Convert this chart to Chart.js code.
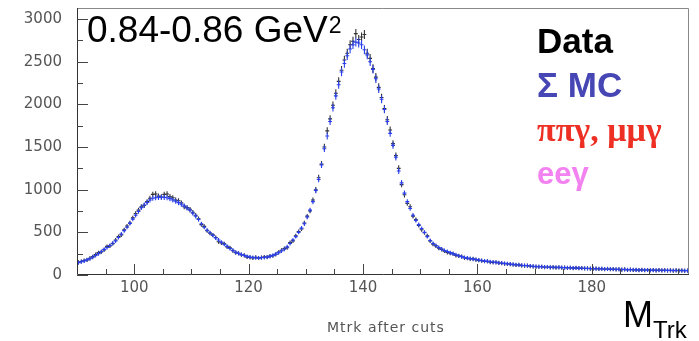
<!DOCTYPE html>
<html>
<head>
<meta charset="utf-8">
<script src="https://cdn.jsdelivr.net/npm/chart.js@4.4.1/dist/chart.umd.min.js"></script>
<style>
html, body { margin: 0; padding: 0; background: #fff; }
#wrap { position: relative; width: 699px; height: 341px; }
</style>
</head>
<body>
<div id="wrap"><canvas id="chart" width="699" height="341"></canvas></div>
<script>
// Mtrk histogram, 0.5 MeV bins starting at 90
var binStart = 90;
var binWidth = 0.5;

var mcCounts = [
    145, 155, 165, 178, 190, 208, 228, 250, 275, 300,
    322, 345, 372, 400, 440, 480, 520, 560, 605, 655,
    700, 745, 790, 820, 850, 880, 900, 905, 910, 912,
    910, 905, 895, 880, 865, 848, 830, 810, 785, 760,
    725, 690, 650, 600, 560, 525, 495, 465, 435, 410,
    385, 360, 335, 310, 290, 268, 252, 240, 228, 218,
    210, 205, 202, 200, 202, 205, 210, 218, 230, 245,
    262, 282, 302, 330, 370, 410, 450, 500, 550, 600,
    680, 760, 860, 990, 1120, 1290, 1480, 1630, 1800, 1960,
    2100, 2230, 2380, 2480, 2570, 2650, 2700, 2730, 2720, 2700,
    2640, 2580, 2500, 2410, 2300, 2180, 2060, 1940, 1800, 1660,
    1520, 1380, 1220, 1080, 960, 860, 780, 700, 640, 590,
    545, 500, 450, 405, 370, 345, 322, 305, 288, 275,
    262, 248, 236, 226, 215, 206, 198, 192, 186, 181,
    176, 170, 165, 160, 156, 152, 148, 144, 140, 136,
    132, 128, 124, 120, 117, 114, 111, 108, 105, 102,
    100, 98, 96, 94, 93, 92, 91, 90, 89, 88,
    86, 85, 84, 83, 82, 81, 80, 79, 77, 76,
    75, 74, 73, 72, 71, 70, 69, 68, 67, 66,
    65, 64, 63, 62, 61, 60, 60, 59, 58, 58,
    57, 57, 56, 56, 55, 55, 54, 54, 53, 53,
    52, 52, 51, 51
];

var dataCounts = [
    150, 158, 170, 175, 196, 215, 240, 262, 270, 295,
    335, 340, 368, 410, 450, 470, 530, 575, 610, 670,
    720, 760, 800, 815, 860, 900, 945, 950, 925, 915,
    945, 950, 920, 905, 880, 870, 845, 800, 790, 770,
    735, 700, 660, 590, 570, 520, 490, 470, 440, 390,
    375, 365, 330, 320, 285, 262, 255, 236, 232, 210,
    205, 200, 208, 198, 205, 212, 208, 222, 226, 240,
    268, 290, 310, 320, 380, 400, 460, 510, 540, 610,
    690, 750, 880, 1000, 1140, 1300, 1500, 1690, 1830, 1990,
    2130, 2270, 2400, 2520, 2600, 2700, 2740, 2830, 2760, 2790,
    2820, 2600, 2540, 2420, 2320, 2200, 2080, 1950, 1820, 1700,
    1540, 1400, 1250, 1060, 940, 840, 800, 690, 650, 580,
    530, 495, 460, 400, 360, 340, 315, 300, 280, 265,
    255, 250, 230, 222, 218, 200, 195, 188, 190, 178,
    172, 168, 160, 162, 150, 148, 150, 140, 138, 132,
    130, 126, 122, 118, 119, 110, 108, 110, 102, 100,
    98, 96, 97, 90, 94, 88, 92, 86, 90, 85,
    88, 82, 86, 80, 84, 78, 82, 76, 78, 74,
    72, 76, 70, 74, 68, 72, 66, 70, 64, 68,
    62, 66, 60, 64, 58, 62, 57, 61, 56, 60,
    55, 59, 54, 58, 53, 57, 52, 56, 51, 55,
    50, 54, 49, 53
];

var xTickLabels = [100, 120, 140, 160, 180];
var yTickLabels = [0, 500, 1000, 1500, 2000, 2500, 3000];

function toPoints(counts) {
    return counts.map(function(c, i) {
        return {x: binStart + (i + 0.5) * binWidth, y: c};
    });
}

// tick marks every 5 on x, every 250 on y (labels only on the listed ones)
function stepTicks(from, to, step) {
    var t = [];
    for (var v = from; v <= to; v += step) t.push({value: v});
    return t;
}

function noPadding(scale) {
    scale.paddingTop = 0;
    scale.paddingBottom = 0;
    scale.paddingLeft = 0;
    scale.paddingRight = 0;
}

// crosses: horizontal bar = bin width, vertical bar = sqrt(N)
var errorBars = {
    id: "errorBars",
    afterDatasetsDraw: function(chart) {
        var ctx = chart.ctx, xs = chart.scales.x, ys = chart.scales.y, a = chart.chartArea;
        ctx.save();
        ctx.beginPath();
        ctx.rect(a.left, a.top, a.right - a.left, a.bottom - a.top);
        ctx.clip();
        [0, 1].forEach(function(di) {
            var ds = chart.data.datasets[di];
            ctx.strokeStyle = ds.borderColor;
            ctx.lineWidth = 1.1;
            ctx.beginPath();
            ds.data.forEach(function(p) {
                var e = Math.sqrt(p.y);
                var px = xs.getPixelForValue(p.x), py = ys.getPixelForValue(p.y);
                var lo = Math.max(ys.getPixelForValue(p.y - e), py + 2);
                var hi = Math.min(ys.getPixelForValue(p.y + e), py - 2);
                ctx.moveTo(xs.getPixelForValue(p.x - binWidth / 2) - 0.5, py);
                ctx.lineTo(xs.getPixelForValue(p.x + binWidth / 2) + 0.5, py);
                ctx.moveTo(px, lo);
                ctx.lineTo(px, hi);
            });
            ctx.stroke();
        });
        ctx.restore();
    }
};

var frameAndText = {
    id: "frameAndText",
    afterDraw: function(chart) {
        var ctx = chart.ctx, xs = chart.scales.x, ys = chart.scales.y, a = chart.chartArea;
        ctx.save();
        ctx.lineWidth = 1;

        // frame
        ctx.strokeStyle = "#888";
        ctx.beginPath();
        ctx.moveTo(a.left, a.top + 0.5);
        ctx.lineTo(a.right - 0.5, a.top + 0.5);
        ctx.lineTo(a.right - 0.5, a.bottom);
        ctx.stroke();
        ctx.strokeStyle = "#333";
        ctx.beginPath();
        ctx.moveTo(a.left + 0.5, a.top);
        ctx.lineTo(a.left + 0.5, a.bottom - 0.5);
        ctx.lineTo(a.right, a.bottom - 0.5);
        ctx.stroke();

        // inward ticks
        ctx.strokeStyle = "#444";
        ctx.beginPath();
        xs.ticks.forEach(function(t) {
            var len = t.value % 20 === 0 ? 11 : 6;
            var px = Math.round(xs.getPixelForValue(t.value)) + 0.5;
            ctx.moveTo(px, a.bottom);
            ctx.lineTo(px, a.bottom - len);
        });
        ys.ticks.forEach(function(t) {
            var len = t.value % 500 === 0 ? 11 : 6;
            var py = Math.round(ys.getPixelForValue(t.value)) + 0.5;
            ctx.moveTo(a.left, py);
            ctx.lineTo(a.left + len, py);
        });
        ctx.stroke();

        // Q2 range label
        ctx.fillStyle = "#000";
        ctx.textBaseline = "alphabetic";
        ctx.textAlign = "left";
        ctx.font = "37px 'Liberation Sans', Arial, sans-serif";
        var q = "0.84-0.86 GeV";
        ctx.fillText(q, 87, 42);
        var qw = ctx.measureText(q).width;
        ctx.font = "23px 'Liberation Sans', Arial, sans-serif";
        ctx.fillText("2", 87 + qw + 1, 33);

        // legend
        ctx.font = "bold 35px 'Liberation Sans', Arial, sans-serif";
        ctx.fillStyle = "#000";
        ctx.fillText("Data", 537, 53);
        ctx.fillStyle = "#4646b4";
        ctx.fillText("\u03A3 MC", 537, 97);
        ctx.font = "bold 34px 'Liberation Serif', 'DejaVu Serif', serif";
        ctx.fillStyle = "#ee3024";
        ctx.fillText("\u03C0\u03C0\u03B3, \u03BC\u03BC\u03B3", 537, 141);
        ctx.font = "bold 31px 'Liberation Sans', Arial, sans-serif";
        ctx.fillStyle = "#f282f0";
        ctx.fillText("ee\u03B3", 537, 184);

        // histogram title
        ctx.font = "14px 'DejaVu Sans', sans-serif";
        ctx.fillStyle = "#555";
        ctx.letterSpacing = "1px";
        ctx.fillText("Mtrk after cuts", 327, 332);
        ctx.letterSpacing = "0px";

        // axis title
        ctx.fillStyle = "#000";
        ctx.font = "36px 'Liberation Sans', Arial, sans-serif";
        ctx.fillText("M", 623, 327);
        var mw = ctx.measureText("M").width;
        ctx.font = "24px 'Liberation Sans', Arial, sans-serif";
        ctx.fillText("Trk", 623 + mw, 338);
        ctx.restore();
    }
};

new Chart(document.getElementById("chart"), {
    type: "scatter",
    data: {
        datasets: [
            {
                label: "Data",
                data: toPoints(dataCounts),
                borderColor: "#333",
                backgroundColor: "#333",
                pointRadius: 0,
                showLine: false
            },
            {
                label: "\u03A3 MC",
                data: toPoints(mcCounts),
                borderColor: "#2a40f0",
                backgroundColor: "#2a40f0",
                pointRadius: 0,
                showLine: false
            }
        ]
    },
    options: {
        responsive: false,
        animation: false,
        layout: {padding: {top: 8, right: 10, left: 0, bottom: 0}},
        plugins: {
            legend: {display: false},
            tooltip: {enabled: false}
        },
        scales: {
            x: {
                type: "linear",
                min: 90,
                max: 197,
                grid: {display: false, drawTicks: false},
                border: {display: false},
                afterFit: function(scale) { scale.height = 66; noPadding(scale); },
                afterBuildTicks: function(scale) { scale.ticks = stepTicks(95, 195, 5); },
                ticks: {
                    autoSkip: false,
                    maxRotation: 0,
                    padding: 4,
                    color: "#555",
                    font: {family: "'DejaVu Sans', sans-serif", size: 15},
                    callback: function(v) { return xTickLabels.indexOf(v) >= 0 ? String(v) : ""; }
                }
            },
            y: {
                min: 0,
                max: 3130,
                grid: {display: false, drawTicks: false},
                border: {display: false},
                afterFit: function(scale) { scale.width = 77; noPadding(scale); },
                afterBuildTicks: function(scale) { scale.ticks = stepTicks(0, 3000, 250); },
                ticks: {
                    autoSkip: false,
                    padding: 15,
                    color: "#555",
                    font: {family: "'DejaVu Sans', sans-serif", size: 15},
                    callback: function(v) { return yTickLabels.indexOf(v) >= 0 ? String(v) : ""; }
                }
            }
        }
    },
    plugins: [errorBars, frameAndText]
});
</script>
</body>
</html>
